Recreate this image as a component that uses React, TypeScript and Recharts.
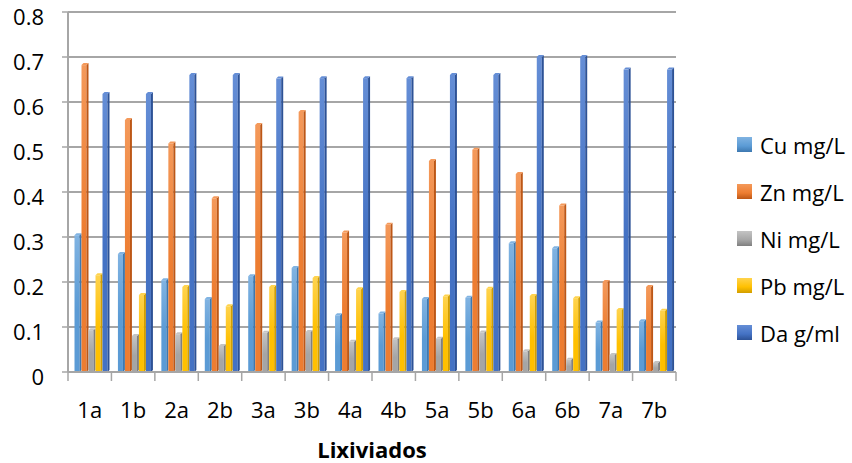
import React from "react";
import {
    Bar,
    BarChart,
    CartesianGrid,
    XAxis,
    YAxis,
} from "recharts";

const FONT = "'Open Sans', 'Noto Sans', sans-serif";

const muestras = ["1a", "1b", "2a", "2b", "3a", "3b", "4a", "4b", "5a", "5b", "6a", "6b", "7a", "7b"];

const cu = [0.304, 0.262, 0.204, 0.162, 0.213, 0.231, 0.126, 0.13, 0.162, 0.165, 0.286, 0.275, 0.11, 0.113];
const zn = [0.682, 0.56, 0.508, 0.386, 0.549, 0.578, 0.31, 0.327, 0.469, 0.494, 0.44, 0.37, 0.2, 0.189];
const ni = [0.093, 0.08, 0.084, 0.058, 0.087, 0.089, 0.067, 0.073, 0.074, 0.088, 0.046, 0.027, 0.038, 0.02];
const pb = [0.215, 0.171, 0.189, 0.146, 0.189, 0.209, 0.184, 0.178, 0.168, 0.185, 0.169, 0.164, 0.138, 0.136];
const da = [0.618, 0.618, 0.66, 0.66, 0.652, 0.653, 0.653, 0.653, 0.66, 0.66, 0.7, 0.7, 0.672, 0.672];

const yTicks = [0, 0.1, 0.2, 0.3, 0.4, 0.5, 0.6, 0.7, 0.8];

const series = [
    { key: "cu", name: "Cu mg/L", base: "#5b9bd5", light: "#80b3e2", dark: "#3d78b0" },
    { key: "zn", name: "Zn mg/L", base: "#ed7d31", light: "#f4995a", dark: "#bd5716" },
    { key: "ni", name: "Ni mg/L", base: "#a5a5a5", light: "#c4c4c4", dark: "#7f7f7f" },
    { key: "pb", name: "Pb mg/L", base: "#ffc000", light: "#ffd34d", dark: "#d29e00" },
    { key: "da", name: "Da g/ml", base: "#4472c4", light: "#658ed6", dark: "#2d5296" },
];

const data = muestras.map((m, i) => ({
    muestra: m,
    cu: cu[i],
    zn: zn[i],
    ni: ni[i],
    pb: pb[i],
    da: da[i],
}));

const W = 852;
const H = 463;
const MARGIN = { top: 12, right: 176, left: 0, bottom: 0 };
const Y_AXIS_W = 68;
const X_AXIS_H = 91;
const PLOT_W = W - MARGIN.left - MARGIN.right - Y_AXIS_W;
const STEP = PLOT_W / muestras.length;
const DEPTH = 2;
const SHIFT = 2.5; // bars sit a little to the right, as if seen in depth

// bar with a thin side and top face for the 3D look
const make3DBar = (s: typeof series[number]) => (props: any) => {
    const { y, width, height } = props;
    if (!height || height <= 0) return <g />;
    const x = props.x + SHIFT;
    const fw = width - DEPTH;
    return (
        <g>
            <rect x={x} y={y} width={fw} height={height} fill={`url(#grad-${s.key})`} />
            <polygon
                points={`${x + fw},${y} ${x + width},${y - DEPTH} ${x + width},${y + height - DEPTH} ${x + fw},${y + height}`}
                fill={s.dark}
            />
            <polygon
                points={`${x},${y} ${x + DEPTH},${y - DEPTH} ${x + width},${y - DEPTH} ${x + fw},${y}`}
                fill={s.light}
            />
        </g>
    );
};

const YTick = (props: any) => {
    const { x, y, payload } = props;
    return (
        <text
            x={x}
            y={y + 4}
            textAnchor="end"
            dominantBaseline="central"
            fontSize={22}
            fontFamily={FONT}
            fill="#000"
        >
            {payload.value}
        </text>
    );
};

const XTick = (props: any) => {
    const { x, y, payload, index } = props;
    const left = x - STEP / 2;
    const right = x + STEP / 2;
    return (
        <g>
            <line x1={left} y1={y} x2={left} y2={y + 9} stroke="#a6a6a6" strokeWidth={1.5} />
            {index === muestras.length - 1 && (
                <line x1={right} y1={y} x2={right} y2={y + 9} stroke="#a6a6a6" strokeWidth={1.5} />
            )}
            <text
                x={x}
                y={y + 37}
                textAnchor="middle"
                dominantBaseline="central"
                fontSize={22}
                fontFamily={FONT}
                fill="#000"
            >
                {payload.value}
            </text>
        </g>
    );
};

const AxisTitle = (props: any) => {
    const { viewBox } = props;
    return (
        <text
            x={viewBox.x + viewBox.width / 2}
            y={viewBox.y + 86}
            textAnchor="middle"
            fontSize={22}
            fontWeight="bold"
            fontFamily={FONT}
            fill="#000"
        >
            Lixiviados
        </text>
    );
};

const LegendBox = () => (
    <div
        style={{
            position: "absolute",
            left: 737,
            top: 121,
            fontFamily: FONT,
            fontSize: 22,
            color: "#000",
        }}
    >
        {series.map((s) => (
            <div key={s.key} style={{ display: "flex", alignItems: "center", height: 47 }}>
                <span
                    style={{
                        display: "inline-block",
                        width: 15,
                        height: 15,
                        marginRight: 8,
                        background: `linear-gradient(${s.light}, ${s.base} 60%, ${s.dark})`,
                    }}
                />
                <span style={{ whiteSpace: "nowrap" }}>{s.name}</span>
            </div>
        ))}
    </div>
);

export default function App() {
    return (
        <div style={{ position: "absolute", left: 0, top: 0, width: W, height: H, background: "#fff" }}>
            <BarChart
                width={W}
                height={H}
                data={data}
                margin={MARGIN}
                barSize={7}
                barGap={0}
            >
                <defs>
                    {series.map((s) => (
                        <linearGradient key={s.key} id={`grad-${s.key}`} x1="0" y1="0" x2="0" y2="1">
                            <stop offset="0%" stopColor={s.light} />
                            <stop offset="55%" stopColor={s.base} />
                            <stop offset="100%" stopColor={s.base} />
                        </linearGradient>
                    ))}
                </defs>
                <CartesianGrid vertical={false} stroke="#a6a6a6" strokeWidth={2} />
                <XAxis
                    dataKey="muestra"
                    height={X_AXIS_H}
                    tickLine={false}
                    tickSize={0}
                    tickMargin={0}
                    axisLine={{ stroke: "#a6a6a6", strokeWidth: 2 }}
                    tick={<XTick />}
                    interval={0}
                    label={{ content: <AxisTitle /> }}
                />
                <YAxis
                    width={Y_AXIS_W}
                    domain={[0, 0.8]}
                    ticks={yTicks}
                    tickSize={6}
                    tickMargin={18}
                    tickLine={{ stroke: "#a6a6a6", strokeWidth: 1.5 }}
                    axisLine={{ stroke: "#a6a6a6", strokeWidth: 2 }}
                    tick={<YTick />}
                />
                {series.map((s) => (
                    <Bar
                        key={s.key}
                        dataKey={s.key}
                        name={s.name}
                        fill={s.base}
                        shape={make3DBar(s)}
                        isAnimationActive={false}
                    />
                ))}
            </BarChart>
            <LegendBox />
        </div>
    );
}
